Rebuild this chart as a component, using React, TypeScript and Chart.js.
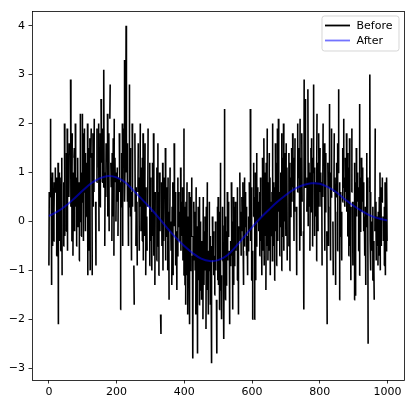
import React, { useEffect, useRef } from 'react';
import { Chart, registerables } from 'chart.js';

Chart.register(...registerables);

// "Before" series: one value per sample index 0..999 (null = missing sample)
const beforeValues: (number | null)[] = [
  -0.9, 0.6, null, null, 0.5, 2.1, null, 0.9, -1.3, null, 1.0, -0.5, null, null, -0.4, 0.2, 0.8, null, 0.6, 1.1, null, null, -0.7, 0.9, null,
  0.5, null, 1.2, -2.1, null, 1.0, -0.4, null, null, -0.6, 0.2, 0.9, null, 1.3, -1.1, null, 0.1, null, -0.5, 0.8, null, 2.0, -0.3, null, 1.1,
  null, -0.2, 1.4, null, 1.9, -0.6, null, 1.1, null, 0.5, 1.6, null, 0.8, null, 2.9, 0.3, null, -0.4, 0.6, 1.8, null, -0.7, 1.0, null, 1.3,
  1.5, -0.2, null, 2.0, 0.3, null, -0.5, 0.9, null, null, 1.3, -0.1, 0.6, null, -0.8, 0.8, null, 0.0, 2.2, null, -0.3, 1.0, null, 0.4, 2.2,
  null, 1.8, -0.4, null, 0.6, 1.9, null, 1.4, -0.2, null, null, 0.1, 1.2, null, 2.0, -1.1, null, 1.5, -0.6, null, 0.4, 1.7, -1.0, null, 1.3,
  1.9, null, 1.4, -1.1, null, 1.8, 0.3, null, 0.6, 2.1, null, 1.0, null, 0.4, -0.9, null, 0.8, 1.9, null, 1.5, null, 1.1, 2.0, -0.2, null,
  null, 0.3, 1.8, null, 2.5, 1.2, null, 0.8, 1.9, null, null, 0.7, 3.1, 1.0, null, -0.5, 1.0, null, 0.5, 1.6, null, 1.1, null, 2.2, 0.1,
  1.3, null, 1.8, -0.2, null, 2.1, 2.8, null, 1.2, 0.7, null, -0.4, 1.4, null, 0.1, 1.7, null, -0.7, 2.1, null, 1.3, 0.8, null, 0.0, 1.0,
  null, 0.4, 1.1, null, -0.3, 0.9, null, null, 1.8, 0.6, null, -1.8, 0.8, null, 0.3, 1.4, null, 2.0, -0.5, null, 0.5, null, 1.9, 3.3, 0.4,
  1.2, null, 1.0, 4.0, 1.0, null, 1.6, 0.4, null, 0.8, -0.5, null, 0.3, 2.8, null, 1.5, 0.1, null, 0.6, -0.8, null, 2.0, 0.3, null, 0.5,
  null, -0.9, -1.7, null, 1.8, 0.2, null, -0.5, 0.7, null, 0.4, -0.9, null, 0.6, 1.6, null, 0.9, -0.6, null, 0.3, 2.0, null, -0.2, 1.1, null,
  -0.4, 1.3, null, 1.8, -0.8, null, 1.1, null, -0.3, 1.6, null, -1.1, 0.7, null, 0.1, -0.6, null, 0.3, 1.9, null, 0.8, null, -0.9, 1.2, null,
  0.9, -0.4, null, 0.2, -1.0, null, 1.2, -0.3, null, 1.8, -0.7, null, null, -1.3, 0.6, null, -0.1, null, -0.8, 1.1, null, -0.5, 1.6, null, -1.1,
  0.6, null, 1.0, -0.2, null, -1.9, -2.3, null, 0.8, -0.5, null, 1.2, -1.0, null, -0.4, 0.9, null, 0.5, null, 1.5, -0.8, null, -0.3, 0.7, null,
  null, -1.0, 0.9, null, 0.2, -1.6, null, -0.2, 1.1, null, 0.0, -0.6, null, -1.3, 0.3, null, 0.8, -1.1, null, null, 1.6, -0.1, null, 0.6, -0.3,
  -0.9, null, -0.2, -1.4, null, -0.7, 0.9, null, -0.1, 0.6, null, -0.4, 0.2, null, 1.1, -0.6, null, 0.4, -0.3, null, 0.7, -0.8, null, -1.1, 1.9,
  null, -1.3, 0.3, null, -1.7, 0.4, null, -1.1, 0.8, null, -1.9, 0.1, null, null, 0.6, -0.8, -2.1, null, -1.0, 0.5, null, -0.3, 0.9, null, -0.7,
  -2.8, -0.3, null, 0.4, -0.8, null, 0.2, -1.0, null, -1.9, 0.7, null, -1.3, -0.1, -2.7, null, 0.3, -1.2, null, -1.7, 0.5, null, -1.4, 0.0, null,
  -0.4, -1.6, null, -1.1, null, -2.0, 0.5, null, -1.3, -0.2, null, 0.1, -1.0, null, -2.2, 0.3, null, -1.4, 0.8, null, -0.6, -1.9, null, -1.0, 0.4,
  null, -0.3, -1.7, null, -1.0, -2.9, -0.5, null, 0.1, -0.8, null, -0.2, -1.1, null, -1.5, -0.7, null, 0.0, -1.0, null, -1.6, -2.7, null, 0.3, -1.2,
  0.5, -1.3, null, -1.8, 0.2, null, -1.4, 1.2, null, -1.1, -2.0, null, -0.8, 0.3, null, -0.7, -1.2, -2.4, -0.1, 2.3, null, -1.6, 0.1, null, -1.3,
  -0.2, null, 0.6, -0.8, null, -0.3, 0.4, null, -0.6, -2.1, null, -0.9, -0.4, null, 0.8, -0.7, null, 0.0, -1.8, null, 0.5, -1.3, null, -0.9, 0.3,
  null, 0.4, -0.6, null, 0.1, null, -1.2, 0.7, null, -0.1, -1.9, null, -0.5, null, 1.0, -0.4, null, 0.2, -0.7, null, 0.5, -0.2, null, 0.8, -0.6,
  -1.3, null, -0.5, 0.9, null, -0.1, 0.6, null, 0.3, -0.7, null, -0.3, -1.1, null, -0.6, 0.1, null, 0.8, -0.2, null, 2.3, -0.4, null, -1.2, 0.7,
  null, -2.0, -0.6, null, 0.1, 1.2, null, -2.0, 0.5, null, 1.0, -1.2, null, -0.5, 1.4, null, 0.0, 0.7, null, 0.4, -0.2, null, -0.7, 0.6, null,
  0.9, -0.4, null, 0.1, -1.1, null, 1.3, -0.6, null, null, 1.7, -0.9, null, 1.0, -0.3, null, -1.4, 1.2, null, -0.5, 1.9, null, -0.8, 0.8, null,
  -0.6, 1.4, null, 0.9, -1.1, null, 0.4, -0.3, null, 0.6, -0.8, 2.0, null, 0.8, -0.5, null, -1.2, 0.7, null, 1.6, -0.2, null, -0.9, 1.2, null,
  1.9, -0.4, null, 2.1, 0.2, null, -0.7, 0.6, null, -0.1, 1.0, null, -1.0, 1.8, null, -0.3, 1.3, null, 2.0, -0.6, null, 1.4, 0.0, null, 1.1,
  -0.3, 1.6, null, 1.1, -0.8, null, 0.3, null, -0.5, 1.4, null, -1.0, 1.2, null, 0.1, 0.9, null, 1.5, 0.4, null, 1.8, 0.7, null, 1.3, -0.4,
  null, 0.2, 1.7, null, 0.8, null, 0.3, -1.1, null, 0.6, 2.0, null, 0.9, 1.5, null, 1.1, -0.6, 2.1, null, 1.3, -0.3, null, 1.8, 0.4, null,
  0.5, null, -0.2, -1.8, 2.9, null, 1.1, 0.7, 2.5, null, 1.0, null, 0.2, 0.9, null, 2.7, -0.1, null, 1.2, 0.3, null, -0.6, 1.0, null, 1.5,
  0.2, 1.7, null, -0.5, 1.3, null, 1.0, 2.8, null, 1.1, -0.3, null, 0.8, 0.1, null, -0.8, 1.0, 2.2, null, 1.2, -0.2, null, 1.8, 0.3, null,
  0.6, 1.5, null, 1.0, 0.3, null, 0.8, -0.9, null, 0.5, 2.0, null, 1.1, null, 1.6, -0.6, null, 0.2, 1.4, null, -0.3, -0.2, -2.1, null, 1.2,
  0.3, -0.5, null, 0.7, 2.4, null, 1.0, -0.8, null, 0.5, 1.9, null, 0.8, null, 0.0, -1.1, null, 0.6, 1.8, null, 0.9, 0.2, -1.3, null, 0.5,
  1.2, null, -0.6, 1.6, null, 1.0, 2.7, null, -1.6, 0.8, null, -0.3, 0.6, null, 0.2, -0.8, null, 0.4, 1.5, null, 0.7, 2.1, null, 0.9, 0.3,
  null, 1.3, 0.6, null, 1.8, 0.2, null, -0.3, 1.4, null, -0.7, 1.1, null, 1.7, -0.5, null, 0.3, -1.2, null, 0.6, 1.9, null, 0.4, -0.9, null,
  0.5, null, -1.6, 1.2, null, -1.5, 0.8, null, 1.5, 0.1, null, 1.0, 0.4, null, -0.6, 0.7, null, -1.1, 2.4, null, -0.2, 0.9, null, 1.3, 0.2,
  null, 1.1, 0.4, null, 0.8, -0.2, null, 0.1, -0.7, null, 0.3, -1.3, null, -0.1, 1.4, null, 0.9, 0.2, -2.5, null, -0.3, null, 0.6, 3.0, -0.4,
  0.6, -1.0, null, 0.0, -0.6, null, -1.2, 0.3, null, -0.4, -1.0, -1.6, null, -0.2, 1.9, null, 0.4, -0.8, null, 0.1, -0.5, null, -0.9, 0.2, null,
  -0.7, 0.5, null, 1.0, -1.0, null, 0.7, -0.5, null, 0.4, 0.9, null, 0.1, -0.4, null, -0.9, 0.3, null, 0.8, -1.1, null, -0.6, 0.0, 0.9, -0.4,
];

// "After" (smoothed) series, sampled at these x positions
const afterX = [0, 25, 50, 75, 100, 125, 150, 175, 200, 225, 250, 275, 300, 325, 350, 375, 400, 425, 450, 475, 500,
  525, 550, 575, 600, 625, 650, 675, 700, 725, 750, 775, 800, 825, 850, 875, 900, 925, 950, 975, 999];
const afterValues = [0.11, 0.2, 0.32, 0.47, 0.63, 0.78, 0.88, 0.93, 0.9, 0.8, 0.63, 0.45, 0.27, 0.07, -0.14, -0.33, -0.5, -0.65, -0.76, -0.81, -0.79,
  -0.7, -0.53, -0.33, -0.12, 0.07, 0.24, 0.4, 0.54, 0.66, 0.74, 0.78, 0.77, 0.7, 0.59, 0.45, 0.32, 0.21, 0.12, 0.06, 0.02];

const seriesNames = ['Before', 'After'];
const seriesColors = ['#000000', 'rgba(0,0,255,0.55)'];
const xTicks = [0, 200, 400, 600, 800, 1000];
const yTicks = [-3, -2, -1, 0, 1, 2, 3, 4];
const xLimits = [-49.95, 1048.95];
const yLimits = [-3.24, 4.3];

const FONT = "'DejaVu Sans', sans-serif";

const framePlugin = {
  id: 'frameAndLegend',
  afterDraw(chart: any) {
    const { ctx, chartArea } = chart;
    const { left, right, top, bottom } = chartArea;
    ctx.save();
    ctx.strokeStyle = '#000';
    ctx.lineWidth = 0.8;
    ctx.strokeRect(Math.round(left) + 0.5, Math.round(top) + 0.5, Math.round(right - left), Math.round(bottom - top));

    // legend (upper right)
    const bx = right - 82, by = top + 5, bw = 77, bh = 35, r = 2.5;
    ctx.beginPath();
    ctx.moveTo(bx + r, by);
    ctx.lineTo(bx + bw - r, by);
    ctx.quadraticCurveTo(bx + bw, by, bx + bw, by + r);
    ctx.lineTo(bx + bw, by + bh - r);
    ctx.quadraticCurveTo(bx + bw, by + bh, bx + bw - r, by + bh);
    ctx.lineTo(bx + r, by + bh);
    ctx.quadraticCurveTo(bx, by + bh, bx, by + bh - r);
    ctx.lineTo(bx, by + r);
    ctx.quadraticCurveTo(bx, by, bx + r, by);
    ctx.closePath();
    ctx.fillStyle = 'rgba(255,255,255,0.8)';
    ctx.fill();
    ctx.strokeStyle = 'rgba(204,204,204,0.8)';
    ctx.lineWidth = 1;
    ctx.stroke();

    ctx.font = `11px ${FONT}`;
    ctx.textBaseline = 'middle';
    ctx.textAlign = 'left';
    seriesNames.forEach((name, i) => {
      const y = by + 9.5 + i * 15;
      ctx.beginPath();
      ctx.strokeStyle = seriesColors[i];
      ctx.lineWidth = 1.8;
      ctx.moveTo(bx + 3, y);
      ctx.lineTo(bx + 28, y);
      ctx.stroke();
      ctx.fillStyle = '#000';
      ctx.fillText(name, bx + 34.5, y + 0.5);
    });
    ctx.restore();
  },
};

export default function App() {
  const canvasRef = useRef<HTMLCanvasElement | null>(null);

  useEffect(() => {
    const canvas = canvasRef.current;
    if (!canvas) return;
    const beforeData = beforeValues.map((v, i) => ({ x: i, y: v }));
    const afterData = afterValues.map((v, i) => ({ x: afterX[i], y: v }));

    const chart = new Chart(canvas, {
      type: 'line',
      data: {
        datasets: [
          {
            label: seriesNames[0],
            data: beforeData as any,
            borderColor: seriesColors[0],
            borderWidth: 1.6,
            pointRadius: 0,
            tension: 0,
            spanGaps: false,
            order: 1,
          },
          {
            label: seriesNames[1],
            data: afterData,
            borderColor: seriesColors[1],
            borderWidth: 2,
            pointRadius: 0,
            tension: 0.4,
            order: 0,
          },
        ],
      },
      options: {
        responsive: false,
        animation: false,
        devicePixelRatio: 1,
        parsing: false as any,
        layout: { padding: { left: 0, top: 11, right: 11, bottom: 0 } },
        plugins: { legend: { display: false }, tooltip: { enabled: false } },
        scales: {
          x: {
            type: 'linear',
            min: xLimits[0],
            max: xLimits[1],
            afterBuildTicks: (s: any) => { s.ticks = xTicks.map((v) => ({ value: v })); },
            afterFit: (s: any) => { s.height = 26; },
            border: { display: false },
            grid: { display: true, drawOnChartArea: false, drawTicks: true, tickLength: 3.5, color: '#000', lineWidth: 0.8 },
            ticks: { color: '#000', font: { family: FONT, size: 11 }, padding: 2.5, maxRotation: 0, autoSkip: false, callback: (v: any) => String(v) },
          },
          y: {
            type: 'linear',
            min: yLimits[0],
            max: yLimits[1],
            afterBuildTicks: (s: any) => { s.ticks = yTicks.map((v) => ({ value: v })); },
            afterFit: (s: any) => { s.width = 32; },
            border: { display: false },
            grid: { display: true, drawOnChartArea: false, drawTicks: true, tickLength: 3.5, color: '#000', lineWidth: 0.8 },
            ticks: { color: '#000', font: { family: FONT, size: 11 }, padding: 3.5, autoSkip: false, callback: (v: any) => (v < 0 ? '\u2212' + Math.abs(v) : String(v)) },
          },
        },
      },
      plugins: [framePlugin],
    });
    return () => chart.destroy();
  }, []);

  return (
    <div style={{ position: 'absolute', left: 0, top: 0, width: 415, height: 406, background: '#fff' }}>
      <canvas ref={canvasRef} width={415} height={406} style={{ display: 'block' }} />
    </div>
  );
}
